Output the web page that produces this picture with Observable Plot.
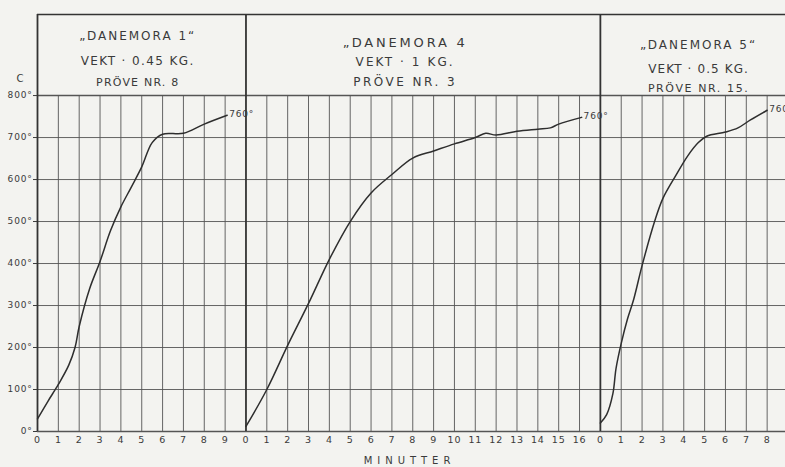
<!DOCTYPE html>
<html><head><meta charset="utf-8">
<script src="https://cdn.jsdelivr.net/npm/d3@7"></script>
<script src="https://cdn.jsdelivr.net/npm/@observablehq/plot@0.6"></script>
<style>
html,body{margin:0;padding:0;background:#f3f3f0;}
svg text{letter-spacing:0.8px;}
</style></head><body><div id="chart"></div>
<script>
// ---- data ----
const panelStarts = [0, 10, 27];          // global minute where each panel begins
const panelLengths = [10, 17, 10];        // minutes per panel
const panelTitles = ["„DANEMORA 1“", "„DANEMORA 4", "„DANEMORA 5“"];
const panelWeights = ["VEKT · 0.45 KG.", "VEKT · 1 KG.", "VEKT · 0.5 KG."];
const panelSamples = ["PRÖVE NR. 8", "PRÖVE NR. 3", "PRÖVE NR. 15."];
const endLabels = ["760°", "760°", "760°"];

const tickLabels1 = ["0","1","2","3","4","5","6","7","8","9"];
const tickLabels2 = ["0","1","2","3","4","5","6","7","8","9","10","11","12","13","14","15","16"];
const tickLabels3 = ["0","1","2","3","4","5","6","7","8"];
const yTicks = [0,100,200,300,400,500,600,700,800];

const d1Min  = [0,0.5,1,1.5,1.8,2,2.5,3,3.5,4,4.5,5,5.5,6,7,8,9.1];
const d1Temp = [30,72,112,158,200,250,340,405,478,535,582,630,688,708,710,732,753];
const d2Min  = [0,1,2,3,4,5,6,7,8,9,10,11,11.5,12,13,14,14.6,15,16.1];
const d2Temp = [12,100,205,305,410,500,568,612,651,668,685,700,710,706,715,720,723,732,748];
const d3Min  = [0,0.3,0.6,0.75,1,1.3,1.6,2,2.6,3,3.6,4.2,4.7,5.1,6,6.6,7.2,8];
const d3Temp = [20,40,90,150,210,268,315,395,500,555,608,657,688,703,713,723,742,765];

// ---- derived tables ----
const series = [[d1Min,d1Temp],[d2Min,d2Temp],[d3Min,d3Temp]];
const curves = series.map(([m,t],i) => m.map((v,j) => ({panel:i, x: panelStarts[i]+v, y: t[j]})));
const points = curves.flat();
const ends = curves.map((c,i) => ({...c[c.length-1], label: endLabels[i]}));
const tickSets = [tickLabels1, tickLabels2, tickLabels3];
const xTicks = tickSets.flatMap((labs,i) => labs.map((l,j) => ({x: panelStarts[i]+j, label: l})));
const tickMap = new Map(xTicks.map(d => [d.x, d.label]));
const borders = panelStarts;
const gridX = xTicks.map(d => d.x).filter(x => !borders.includes(x));
gridX.push(panelStarts[2] + tickLabels3.length);
const headers = panelStarts.map((s,i) => ({x: s + panelLengths[i]/2, title: panelTitles[i], weight: panelWeights[i], sample: panelSamples[i]}));

// ---- layout ----
const xMax = 35.88, yTop = 993;
const ink = "#3a3a3a";
const headerDx = [-4, -18, -6];
const headerDy = [[22, 47, 68], [28, 48, 68], [31, 55, 74]];
const headerSize = [[12, 12, 11], [13, 12, 12], [12, 12, 11]];
const headerSpacing = [[2.0, 1.4, 1.2], [2.8, 2.1, 2.5], [2.0, 1.1, 1.6]];
const fields = ["title", "weight", "sample"];

const headerMarks = headers.flatMap((h,i) => fields.map((f,k) =>
  Plot.text([h], {x: "x", text: f, frameAnchor: "top", lineAnchor: "middle",
    dx: headerDx[i], dy: headerDy[i][k], fontSize: headerSize[i][k],
    ariaLabel: () => `hdr-${i}-${k}`})
));

const chart = Plot.plot({
  width: 785, height: 467,
  marginLeft: 37, marginRight: 0, marginTop: 14, marginBottom: 36,
  x: {domain: [0, xMax]},
  y: {domain: [0, yTop]},
  style: {fontFamily: "DejaVu Sans", fontSize: "9px", color: ink, background: "#f3f3f0"},
  marks: [
    Plot.ruleY(yTicks, {x1: 0, x2: xMax, stroke: "#555", strokeWidth: d => (d === 0 || d === 800) ? 1.4 : 0.9}),
    Plot.ruleX(gridX, {y1: 0, y2: 800, stroke: "#555", strokeWidth: 0.9}),
    Plot.ruleX(borders, {y1: 0, y2: yTop, stroke: "#333", strokeWidth: 1.8}),
    Plot.ruleY([yTop], {x1: 0, x2: xMax, stroke: "#333", strokeWidth: 1.6}),
    Plot.axisY({ticks: yTicks, tickFormat: d => d + "°", tickSize: 4, tickPadding: 1, fontSize: 9, label: null}),
    Plot.axisX({ticks: xTicks.map(d => d.x), tickFormat: d => tickMap.get(d), tickSize: 0, tickPadding: 5, fontSize: 9.5, label: null}),
    Plot.text(["C"], {frameAnchor: "top-left", lineAnchor: "middle", dx: -21, dy: 64, fontSize: 10}),
    Plot.text(["MINUTTER"], {frameAnchor: "bottom", lineAnchor: "middle", dy: 29, dx: -2, fontSize: 10, ariaLabel: () => "xlabel"}),
    Plot.line(points, {x: "x", y: "y", z: "panel", stroke: "#2e2e2e", strokeWidth: 1.5, curve: "catmull-rom"}),
    Plot.text(ends, {x: "x", y: "y", text: "label", textAnchor: "start", dx: 2, dy: -1, fontSize: 9}),
    ...headerMarks
  ]
});
document.getElementById("chart").appendChild(chart);

// per-line letter spacing of the hand-lettered captions
headers.forEach((h,i) => fields.forEach((f,k) => {
  d3.select(chart).selectAll(`text[aria-label="hdr-${i}-${k}"]`).style("letter-spacing", headerSpacing[i][k] + "px");
}));
d3.select(chart).selectAll('text[aria-label="xlabel"]').style("letter-spacing", "5px");
</script></body></html>
